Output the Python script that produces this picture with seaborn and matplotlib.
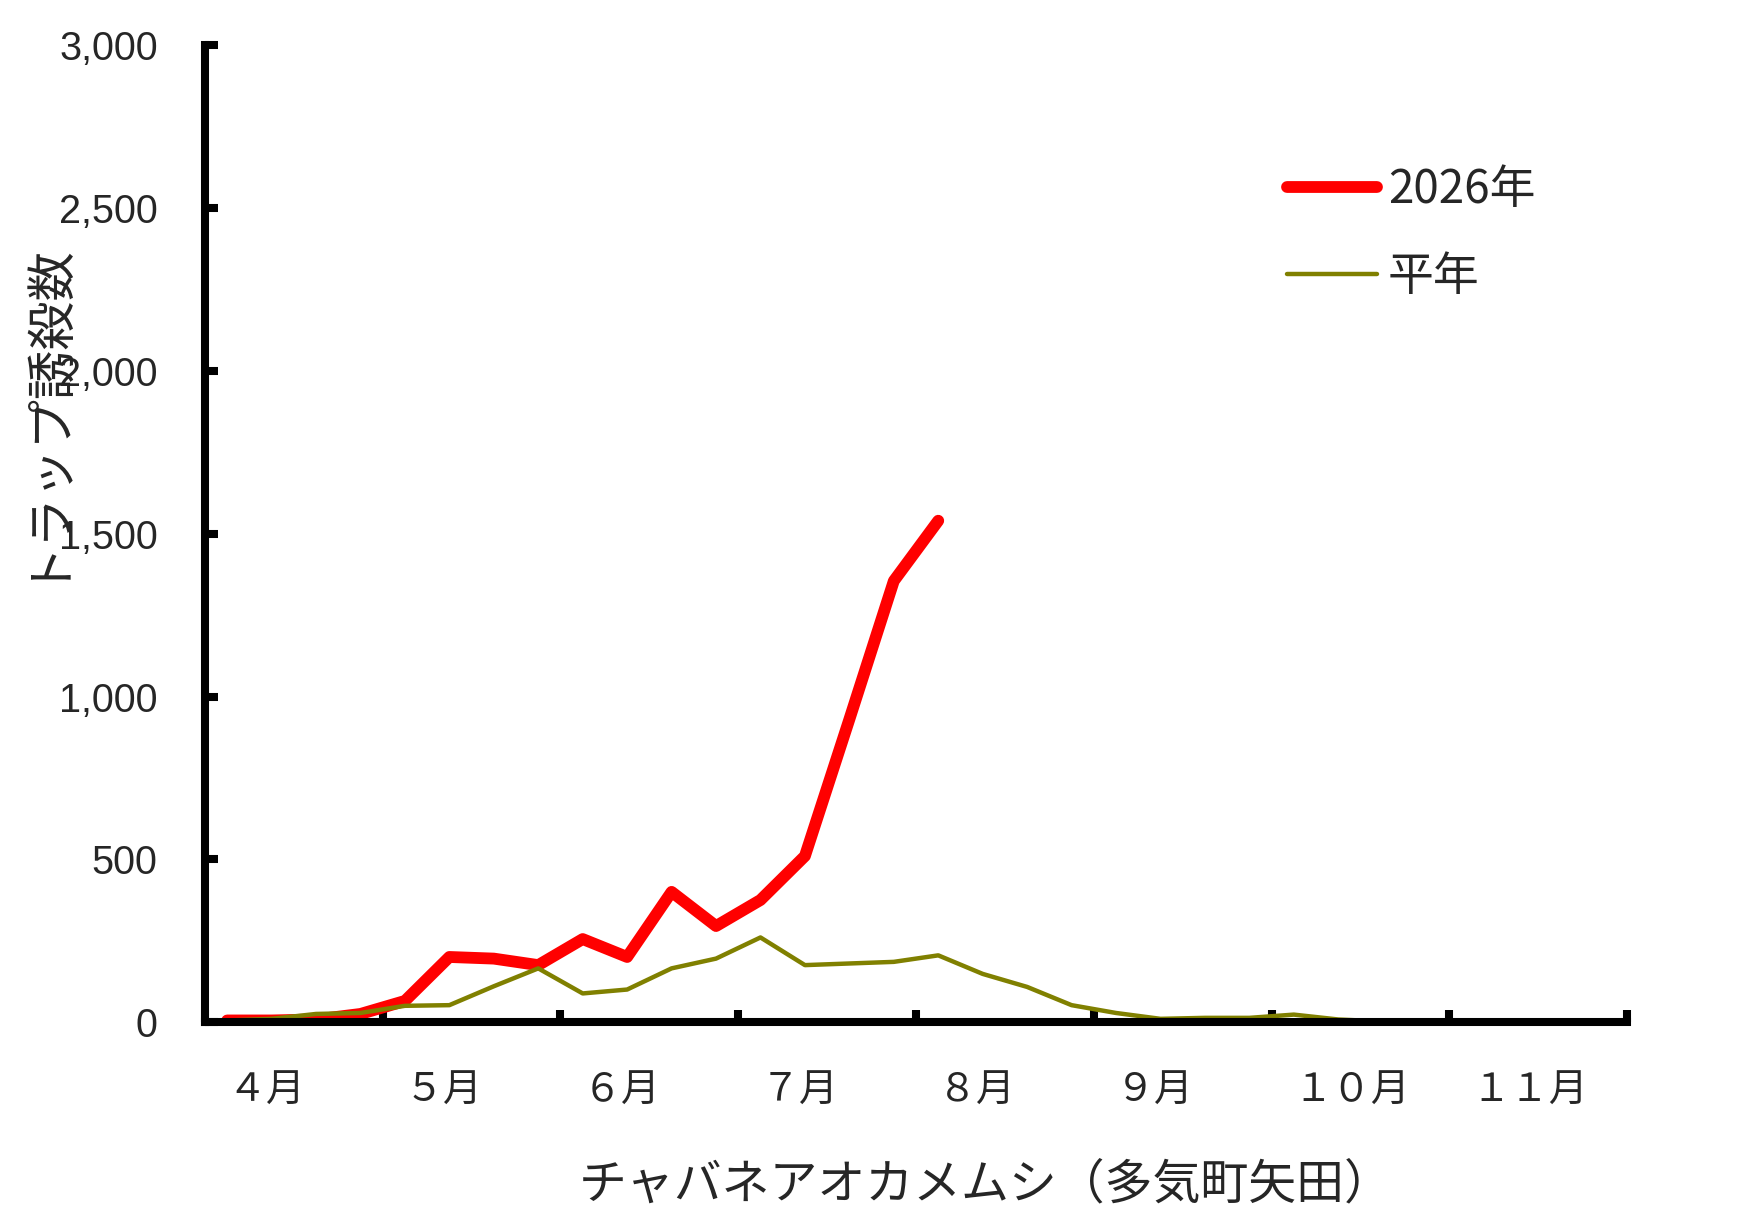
import numpy as np
import pandas as pd
import seaborn as sns
import matplotlib.pyplot as plt
from matplotlib.ticker import FuncFormatter

# 半旬ごとの誘殺数（4点/月、4月〜11月）
months = ["４月", "５月", "６月", "７月", "８月", "９月", "１０月", "１１月"]
points_per_month = 4
this_year = [5, 5, 8, 25, 65, 200, 195, 175, 255, 200, 400, 295, 375, 510,
             930, 1355, 1540]
normal_year = [5, 10, 25, 28, 50, 52, 110, 165, 88, 100, 165, 195, 260, 175,
               180, 185, 205, 148, 108, 52, 28, 10, 13, 13, 23, 8, 2, 2, 2, 1,
               0, 0]
series_names = ["2026年", "平年"]
y_ticks = [0, 500, 1000, 1500, 2000, 2500, 3000]

sns.set_style("white")
plt.rcParams["font.family"] = ["Noto Sans CJK JP", "DejaVu Sans"]

df_this = pd.DataFrame({"pt": np.arange(len(this_year)), "count": this_year})
df_norm = pd.DataFrame({"pt": np.arange(len(normal_year)), "count": normal_year})

fig = plt.figure(figsize=(17.44, 12.27), dpi=100)
ax = fig.add_axes([0.1175, 0.167, 0.8155, 0.796])

sns.lineplot(data=df_this, x="pt", y="count", color="#ff0000", linewidth=8.5,
             label=series_names[0], solid_capstyle="round",
             solid_joinstyle="round", ax=ax)
sns.lineplot(data=df_norm, x="pt", y="count", color="#808000", linewidth=3.2,
             label=series_names[1], ax=ax)

n = len(months) * points_per_month
ax.set_xlim(-0.5, n - 0.5)
ax.set_ylim(0, 3000)

ax.set_xticks(np.arange(-0.5, n, points_per_month))
ax.set_xticklabels([])
ax.set_xticks(np.arange(0, n, points_per_month), labels=months, minor=True)
for lab in ax.get_xticklabels(minor=True):
    lab.set_ha("left")
ax.tick_params(axis="x", which="major", bottom=True, direction="in",
               length=9, width=5.8, color="black")
ax.tick_params(axis="x", which="minor", bottom=True, length=0, pad=35,
               labelsize=28)

ax.set_yticks(y_ticks)
ax.yaxis.set_major_formatter(FuncFormatter(lambda v, p: f"{int(v):,}"))
ax.tick_params(axis="y", left=True, direction="in", length=9, width=5.8,
               color="black", pad=34)
for lab in ax.get_yticklabels():
    lab.set_fontfamily(["Liberation Sans", "DejaVu Sans"])
    lab.set_fontsize(28.5)

for s in ["top", "right"]:
    ax.spines[s].set_visible(False)
for s in ["left", "bottom"]:
    ax.spines[s].set_linewidth(5.8)
    ax.spines[s].set_color("black")

ax.set_xlabel("チャバネアオカメムシ（多気町矢田）", fontsize=34.5)
ax.xaxis.set_label_coords(0.549, -0.166)
ax.xaxis.label.set_va("center")
ax.set_ylabel("トラップ誘殺数", fontsize=35.5)
ax.yaxis.set_label_coords(-0.116, 0.63)
ax.yaxis.label.set_va("center")

ax.legend(loc="upper left", bbox_to_anchor=(0.761, 0.877), frameon=False,
          fontsize=33, handlelength=1.95, handletextpad=0.25,
          labelspacing=0.85, borderpad=0, borderaxespad=0)

fig.savefig("out.png", dpi=100)
